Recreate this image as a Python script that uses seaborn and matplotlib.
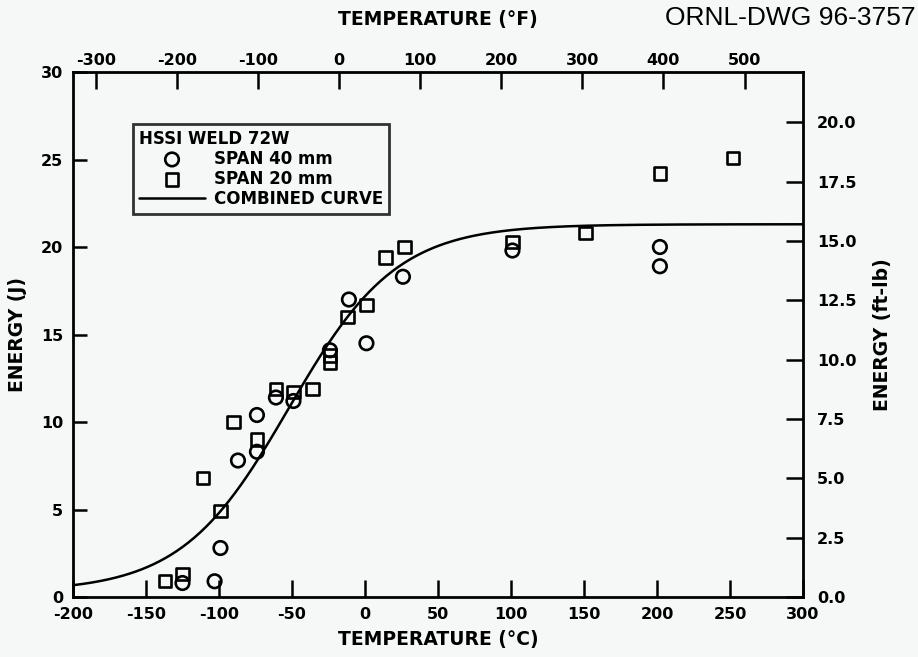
import matplotlib
matplotlib.use("Agg")
import matplotlib.pyplot as plt
import numpy as np
import pandas as pd
import seaborn as sns

# Charpy data (temperature in C, energy in J)
span40_temp = [-103, -125, -99, -87, -74, -74, -61, -49, -24, -11, 1, 26, 101, 202, 202]
span40_energy = [0.9, 0.8, 2.8, 7.8, 8.3, 10.4, 11.4, 11.2, 14.1, 17.0, 14.5, 18.3, 19.8, 20.0, 18.9]

span20_temp = [-137, -125, -111, -99, -90, -74, -61, -49, -36, -24, -24, -12, 1, 14, 27, 101, 151, 202, 252]
span20_energy = [0.9, 1.3, 6.8, 4.9, 10.0, 9.0, 11.9, 11.7, 11.9, 13.8, 13.4, 16.0, 16.7, 19.4, 20.0, 20.3, 20.8, 24.2, 25.1]

# combined tanh curve parameters
upper_shelf = 21.3
lower_shelf = 0.3
mid_temp = -52.1
half_width = 73.8

x_ticks = [-200, -150, -100, -50, 0, 50, 100, 150, 200, 250, 300]
y_ticks = [0, 5, 10, 15, 20, 25, 30]
f_ticks = [-300, -200, -100, 0, 100, 200, 300, 400, 500]
ftlb_ticks = [0.0, 2.5, 5.0, 7.5, 10.0, 12.5, 15.0, 17.5, 20.0]

sns.set_style("ticks")
plt.rcParams['font.family'] = ['DejaVu Sans']
plt.rcParams['font.weight'] = 'bold'
plt.rcParams['axes.unicode_minus'] = False
for k in ['text.color', 'axes.labelcolor', 'xtick.color', 'ytick.color', 'axes.edgecolor']:
    plt.rcParams[k] = 'black'

bg = '#f6f8f8'
fig = plt.figure(figsize=(9.18, 6.57), dpi=100, facecolor=bg)
ax = fig.add_axes([0.0795, 0.0913, 0.7952, 0.7991])
ax.set_facecolor(bg)

s40 = pd.DataFrame({'T': span40_temp, 'E': span40_energy})
s20 = pd.DataFrame({'T': span20_temp, 'E': span20_energy})

curve_t = np.linspace(-200, 300, 501)
A = (upper_shelf + lower_shelf) / 2
B = (upper_shelf - lower_shelf) / 2
curve = pd.DataFrame({'T': curve_t, 'E': A + B * np.tanh((curve_t - mid_temp) / half_width)})

sns.lineplot(data=curve, x='T', y='E', ax=ax, color='black', linewidth=1.8, label='COMBINED CURVE')
sns.scatterplot(data=s40, x='T', y='E', ax=ax, marker='o', s=95, facecolor='none',
                edgecolor='black', linewidth=1.9, label='SPAN 40 mm', zorder=3)
sns.scatterplot(data=s20, x='T', y='E', ax=ax, marker='s', s=80, facecolor='none',
                edgecolor='black', linewidth=1.9, label='SPAN 20 mm', zorder=3)

ax.set_xlim(-200, 300)
ax.set_ylim(0, 30)
ax.set_xticks(x_ticks)
ax.set_yticks(y_ticks)
ax.tick_params(axis='x', direction='in', length=12, width=1.8, labelsize=11.5, pad=7)
ax.tick_params(axis='y', direction='in', length=10, width=1.8, labelsize=11.5, pad=7)
ax.tick_params(top=False, right=False)
for sp in ax.spines.values():
    sp.set_linewidth(2.0)
    sp.set_visible(True)
ax.set_xlabel('TEMPERATURE (°C)', fontsize=13.5, fontweight='bold', labelpad=6)
ax.set_ylabel('ENERGY (J)', fontsize=13.5, fontweight='bold', labelpad=10)

# top axis in F
top = ax.secondary_xaxis('top', functions=(lambda c: c * 9 / 5 + 32, lambda f: (f - 32) * 5 / 9))
top.set_xticks(f_ticks)
top.tick_params(direction='in', length=12, width=1.8, labelsize=11.5, pad=3)
top.set_xlabel('TEMPERATURE (°F)', fontsize=13.5, fontweight='bold', labelpad=20)

# right axis in ft-lb
right = ax.secondary_yaxis('right', functions=(lambda j: j / 1.3558, lambda f: f * 1.3558))
right.set_yticks(ftlb_ticks)
right.set_yticklabels([f'{v:.1f}' for v in ftlb_ticks])
right.tick_params(direction='in', length=12, width=1.8, labelsize=11.5, pad=10)
right.set_ylabel('ENERGY (ft-lb)', fontsize=13.5, fontweight='bold', labelpad=12)

handles, labels = ax.get_legend_handles_labels()
order = [labels.index('SPAN 40 mm'), labels.index('SPAN 20 mm'), labels.index('COMBINED CURVE')]
leg = ax.legend([handles[i] for i in order], [labels[i] for i in order],
                title='HSSI WELD 72W', loc='upper left', bbox_to_anchor=(0.082, 0.901),
                borderaxespad=0, frameon=True, fancybox=False, edgecolor='black', fontsize=12,
                title_fontproperties={'weight': 'bold', 'size': 12},
                handlelength=4.0, labelspacing=0.12, borderpad=0.35, handletextpad=0.5,
                alignment='left')
leg.get_frame().set_linewidth(2)
leg.get_frame().set_facecolor(bg)

fig.text(0.997, 0.972, 'ORNL-DWG 96-3757', ha='right', va='center', fontsize=19,
         fontweight='normal', family=['Liberation Sans Narrow', 'Liberation Sans', 'DejaVu Sans'])

fig.savefig('out.png', dpi=100, facecolor=bg)
